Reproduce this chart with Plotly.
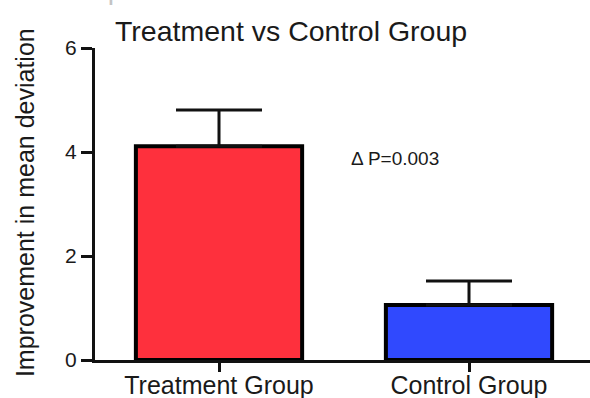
import plotly.graph_objects as go

# ---- data ----
categories = ["Treatment Group", "Control Group"]
mean_improvement = [4.11, 1.06]
sem_upper = [0.70, 0.46]
y_ticks = [0, 2, 4, 6]
title_lines = ["Improvement in Mean Deviation in", "Treatment vs Control Group"]
y_label = "Improvement in mean deviation"
p_label = "Δ P=0.003"

# ---- styles ----
bar_colors = ["#FE303D", "#3049FE"]
FONT = "Liberation Sans, Arial, Helvetica, sans-serif"
INK = "#1a1a1a"

fig = go.Figure()
fig.add_trace(go.Bar(
    x=categories,
    y=mean_improvement,
    width=0.665,
    marker=dict(color=bar_colors, line=dict(color="black", width=4)),
    error_y=dict(type="data", array=sem_upper, arrayminus=[0, 0], symmetric=False,
                 color="#111", thickness=3, width=43),
    showlegend=False,
))

fig.update_layout(
    width=590, height=398,
    margin=dict(l=95, r=0, t=48, b=38, autoexpand=False),
    paper_bgcolor="white", plot_bgcolor="white",
    font=dict(family=FONT, color=INK),
    bargap=0.335,
    xaxis=dict(
        type="category",
        automargin=False,
        range=[-0.496, 1.484],
        showline=True, linecolor="#111", linewidth=3,
        ticks="outside", ticklen=9, tickwidth=3, tickcolor="#111",
        ticklabelstandoff=-8,
        tickfont=dict(size=25, family=FONT, color=INK),
        showgrid=False, zeroline=False,
    ),
    yaxis=dict(
        automargin=False,
        range=[0, 6],
        tickvals=y_ticks,
        showline=True, linecolor="#111", linewidth=3,
        ticks="outside", ticklen=11, tickwidth=3, tickcolor="#111",
        tickfont=dict(size=21, family=FONT, color=INK),
        showgrid=False, zeroline=False,
    ),
)

# first title line: mostly cropped off the top, as in the reference
fig.add_annotation(
    text=title_lines[0],
    xref="paper", yref="paper",
    x=0.397, y=1.132, xanchor="center", yanchor="bottom",
    showarrow=False,
    font=dict(size=28.5, family=FONT, color="#c4c4c4"),
)
fig.add_annotation(
    text=title_lines[1],
    xref="paper", yref="paper",
    x=0.395, y=0.996, xanchor="center", yanchor="bottom",
    showarrow=False,
    font=dict(size=28.5, family=FONT, color=INK),
)
fig.add_annotation(
    text=y_label,
    xref="paper", yref="paper",
    x=-0.1414, y=0.503, xanchor="center", yanchor="middle",
    textangle=-90, showarrow=False,
    font=dict(size=25, family=FONT, color=INK),
)
fig.add_annotation(
    text=p_label,
    xref="paper", yref="paper",
    x=0.514, y=0.647, xanchor="left", yanchor="middle",
    showarrow=False,
    font=dict(size=19, family=FONT, color=INK),
)

fig.write_html("out.html")
